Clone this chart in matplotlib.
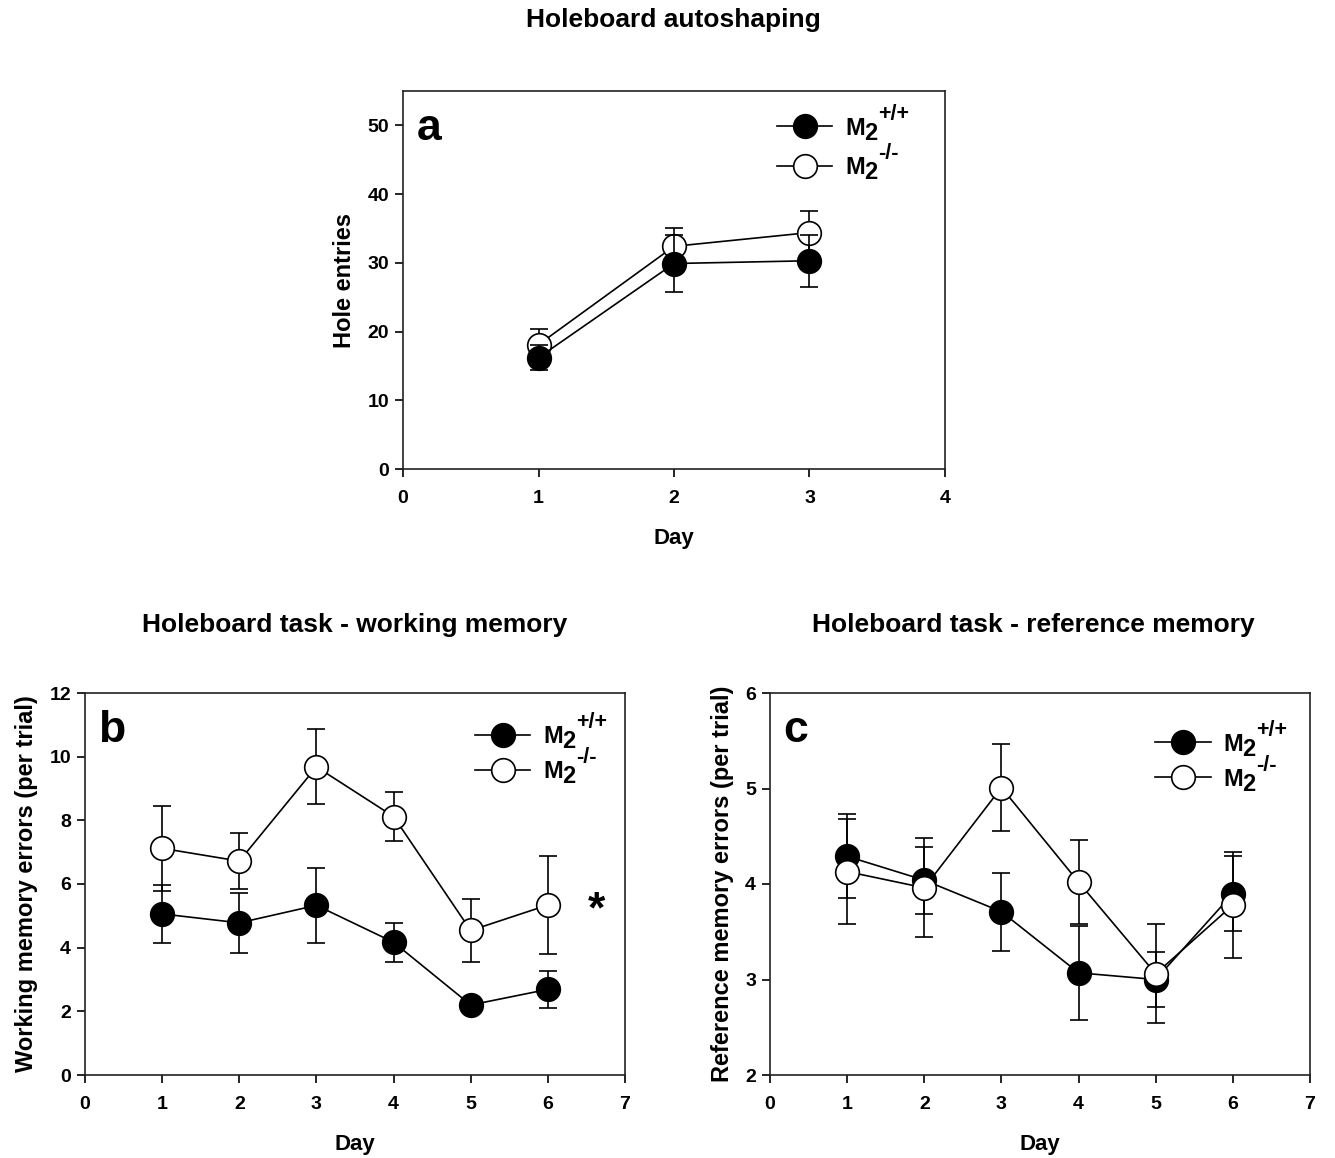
import numpy as np
import matplotlib
matplotlib.use("Agg")
import matplotlib.pyplot as plt
from matplotlib.transforms import IdentityTransform

plt.rcParams['font.family'] = ['Liberation Sans', 'DejaVu Sans']
plt.rcParams['font.weight'] = 'bold'

# panel a - autoshaping
days_a = [1, 2, 3]
wt_a = [16.2, 29.9, 30.3]
wt_a_err = [1.8, 4.2, 3.8]
ko_a = [18.1, 32.4, 34.4]
ko_a_err = [2.3, 2.7, 3.1]

# panel b - working memory
days_b = [1, 2, 3, 4, 5, 6]
wt_b = [5.06, 4.78, 5.33, 4.17, 2.20, 2.69]
wt_b_err = [0.90, 0.94, 1.17, 0.62, 0.15, 0.58]
ko_b = [7.12, 6.72, 9.68, 8.12, 4.54, 5.34]
ko_b_err = [1.33, 0.87, 1.18, 0.77, 0.98, 1.53]

# panel c - reference memory
days_c = [1, 2, 3, 4, 5, 6]
wt_c = [4.29, 4.04, 3.71, 3.07, 3.00, 3.90]
wt_c_err = [0.44, 0.35, 0.41, 0.49, 0.29, 0.39]
ko_c = [4.13, 3.96, 5.01, 4.02, 3.06, 3.78]
ko_c_err = [0.55, 0.52, 0.46, 0.44, 0.52, 0.56]

# legend label pieces: M, subscript 2, genotype superscript
genotypes = ['+/+', '-/-']
LEG_FS = 17

W, H = 1335, 1158
fig = plt.figure(figsize=(W / 100, H / 100), dpi=100)


def make_axes(l, r, t, b):
    return fig.add_axes([l / W, 1 - b / H, (r - l) / W, (b - t) / H])


def draw_series(ax, x, y, err, filled, z):
    fc = 'black' if filled else 'white'
    ax.errorbar(x, y, yerr=err, fmt='none', ecolor='black', elinewidth=1.2,
                capsize=6.5, capthick=1.2, zorder=z)
    h, = ax.plot(x, y, '-', color='black', lw=1.2, marker='o', markersize=17,
                 markerfacecolor=fc, markeredgecolor='black', markeredgewidth=1.2,
                 zorder=z + 1)
    return h


def style(ax, xmax, ylim, yticks, letter, ylabel):
    ax.set_xlim(0, xmax)
    ax.set_ylim(*ylim)
    ax.set_xticks(range(0, xmax + 1))
    ax.set_yticks(yticks)
    ax.tick_params(direction='out', length=6, width=1.2, labelsize=14, top=False, right=False)
    ax.tick_params(axis='x', pad=9)
    ax.tick_params(axis='y', pad=4)
    for lab in ax.get_xticklabels() + ax.get_yticklabels():
        lab.set_fontweight('bold')
    for s in ax.spines.values():
        s.set_linewidth(1.2)
        s.set_color('#222222')
    ax.set_xlabel('Day', fontsize=16, fontweight='bold', labelpad=15)
    ax.set_ylabel(ylabel, fontsize=17, fontweight='bold', labelpad=8)
    ax.text(0.025, 0.955, letter, transform=ax.transAxes, fontsize=32,
            fontweight='bold', va='top', ha='left')


legend_texts = []


def add_legend(ax, handles, anchor, spacing):
    leg = ax.legend(handles, ['M', 'M'], loc='upper left', bbox_to_anchor=anchor,
                    frameon=False, fontsize=LEG_FS, handlelength=2.35, handletextpad=0.55,
                    borderpad=0, borderaxespad=0, labelspacing=spacing)
    legend_texts.extend(leg.get_texts())


# panel a
ax_a = make_axes(403, 945, 91, 469)
h2 = draw_series(ax_a, days_a, ko_a, ko_a_err, False, 2)
h1 = draw_series(ax_a, days_a, wt_a, wt_a_err, True, 4)
style(ax_a, 4, (0, 55), range(0, 51, 10), 'a', 'Hole entries')
add_legend(ax_a, [h1, h2], (0.690, 0.932), 0.70)

# panel b
ax_b = make_axes(85, 625, 693, 1075)
h1 = draw_series(ax_b, days_b, wt_b, wt_b_err, True, 2)
h2 = draw_series(ax_b, days_b, ko_b, ko_b_err, False, 4)
style(ax_b, 7, (0, 12), range(0, 13, 2), 'b', 'Working memory errors (per trial)')
add_legend(ax_b, [h1, h2], (0.722, 0.915), 0.50)
ax_b.text(6.63, ko_b[-1] - 0.2, '*', fontsize=32, fontweight='bold', ha='center', va='center')

# panel c
ax_c = make_axes(770, 1310, 693, 1075)
h1 = draw_series(ax_c, days_c, wt_c, wt_c_err, True, 2)
h2 = draw_series(ax_c, days_c, ko_c, ko_c_err, False, 4)
style(ax_c, 7, (2, 6), range(2, 7), 'c', 'Reference memory errors (per trial)')
add_legend(ax_c, [h1, h2], (0.713, 0.896), 0.50)

fig.text(673 / W, 1 - 20 / H, 'Holeboard autoshaping', fontsize=19, fontweight='bold',
         ha='center', va='center')
fig.text(355 / W, 1 - 625 / H, 'Holeboard task - working memory', fontsize=19,
         fontweight='bold', ha='center', va='center')
fig.text(1033 / W, 1 - 625 / H, 'Holeboard task - reference memory', fontsize=19,
         fontweight='bold', ha='center', va='center')

# subscript "2" and genotype superscript, near full-size like in the original legend
fig.canvas.draw()
renderer = fig.canvas.get_renderer()
for i, t in enumerate(legend_texts):
    bb = t.get_window_extent(renderer)
    sub = fig.text(bb.x1 - 1, bb.y0 - 5, '2', transform=IdentityTransform(),
                   fontsize=LEG_FS, fontweight='bold', ha='left', va='bottom')
    sbb = sub.get_window_extent(renderer)
    fig.text(sbb.x1 + 1, bb.y0 + 15, genotypes[i % 2], transform=IdentityTransform(),
             fontsize=15.5, fontweight='bold', ha='left', va='bottom')

fig.savefig('out.png', dpi=100)
